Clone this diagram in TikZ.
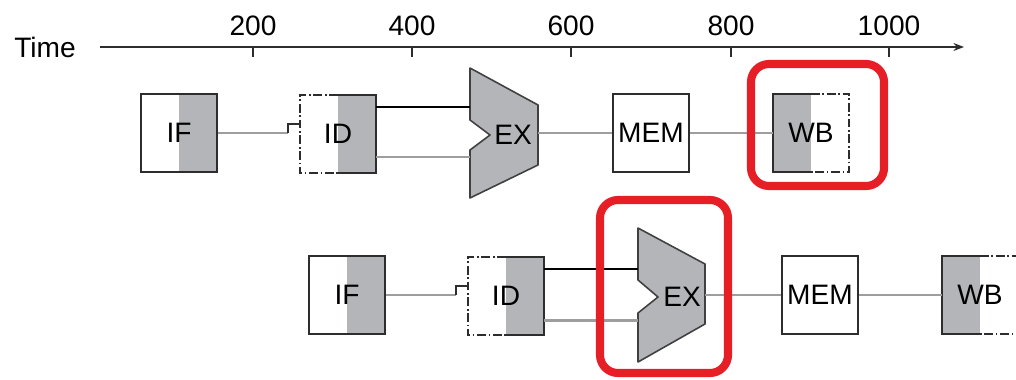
\documentclass[tikz,border=0pt]{standalone}
\usepackage{fontspec}
\setmainfont{Liberation Sans}
\usetikzlibrary{calc, arrows.meta}

\definecolor{grigio}{RGB}{180,181,185}
\definecolor{grigiofilo}{RGB}{158,158,158}
\definecolor{rosso}{RGB}{230,30,38}
\definecolor{scuro}{RGB}{45,45,45}

\tikzset{
  testo/.style={inner sep=0pt, font=\fontsize{16}{18}\selectfont},
  fase/.style={testo, minimum width=1.52cm, minimum height=1.56cm},
  contorno/.style={draw=scuro, line width=1.1pt},
  tratteggio/.style={draw=scuro, line width=1pt, dash pattern=on 5pt off 1.5pt on 1pt off 1.5pt},
  grigiodx/.style={path picture={\fill[grigio] (path picture bounding box.north) rectangle (path picture bounding box.south east);}},
  grigiosx/.style={path picture={\fill[grigio] (path picture bounding box.north) rectangle (path picture bounding box.south west);}},
  filo/.style={draw=grigiofilo, line width=1.1pt},
  gancio/.style={draw=scuro, line width=0.9pt},
  tacca/.style={draw=scuro, line width=0.9pt},
  alu/.style={fill=grigio, draw=black!75, line width=0.9pt, line join=round},
  evidenzia/.style={draw=rosso, line width=4.6pt, rounded corners=0.36cm},
}

\begin{document}
\begin{tikzpicture}[x=0.02cm, y=-0.02cm]
    \useasboundingbox (0,0) rectangle (1016,379);

    % asse dei tempi
    \node[testo] (tempo) at (45,47) {Time};
    \coordinate (t0) at (100,47);
    \coordinate (t1) at (964,47);
    \draw[draw=scuro, line width=1.1pt, -{Stealth[length=6pt,width=4.5pt]}] (t0) -- (t1);

    \draw[tacca] (253,47) -- (253,57);
    \draw[tacca] (412,47) -- (412,57);
    \draw[tacca] (571,47) -- (571,57);
    \draw[tacca] (731,47) -- (731,57);
    \draw[tacca] (889,47) -- (889,57);

    \node[testo] (l200) at (253,26) {200};
    \node[testo] (l400) at (412,26) {400};
    \node[testo] (l600) at (571,26) {600};
    \node[testo] (l800) at (731,26) {800};
    \node[testo] (l1000) at (889,26) {1000};

    % prima istruzione
    \node[fase, contorno, grigiodx] (ifA) at (179,133) {IF};
    \node[fase, grigiodx] (idA) at (338,134) {ID};
    \draw[contorno] (idA.north) -- (idA.north east) -- (idA.south east) -- (idA.south);
    \draw[tratteggio] (idA.north) -- (idA.north west) -- (idA.south west) -- (idA.south);

    \draw[alu] (470,68) -- (538,105) -- (538,165) -- (470,198) -- (470,150)
        -- (490,135) -- (470,120) -- cycle;
    \node[testo] (exA) at (513,135) {EX};
    \coordinate (exA1) at (470,107);
    \coordinate (exA2) at (470,157);
    \coordinate (exAout) at (538,133);

    \node[fase, contorno] (memA) at (651,133) {MEM};
    \node[fase, grigiosx] (wbA) at (811,133) {WB};
    \draw[contorno] (wbA.north) -- (wbA.north west) -- (wbA.south west) -- (wbA.south);
    \draw[tratteggio] (wbA.north) -- (wbA.north east) -- (wbA.south east) -- (wbA.south);

    % collegamenti
    \draw[filo] (ifA.east) -- ++(70,0) coordinate (hookA);
    \draw[gancio] (hookA) |- ([yshift=0.2cm]idA.west);
    \draw[line width=1.1pt] (idA.east |- exA1) -- (exA1);
    \draw[filo, line width=1.7pt] (idA.east |- exA2) -- (exA2);
    \draw[filo] (exAout) -- (memA.west);
    \draw[filo] (memA.east) -- (wbA.west);

    % seconda istruzione
    \node[fase, contorno, grigiodx] (ifB) at (347,295) {IF};
    \node[fase, grigiodx] (idB) at (506,296) {ID};
    \draw[contorno] (idB.north) -- (idB.north east) -- (idB.south east) -- (idB.south);
    \draw[tratteggio] (idB.north) -- (idB.north west) -- (idB.south west) -- (idB.south);

    \draw[alu] (638,228) -- (705,264) -- (705,324) -- (638,362) -- (638,313)
        -- (658,297) -- (638,280) -- cycle;
    \node[testo] (exB) at (682,297) {EX};
    \coordinate (exB1) at (638,269);
    \coordinate (exB2) at (638,320);
    \coordinate (exBout) at (705,295);

    \node[fase, contorno] (memB) at (820,295) {MEM};
    \node[fase, grigiosx] (wbB) at (980,295) {WB};
    \draw[contorno] (wbB.north) -- (wbB.north west) -- (wbB.south west) -- (wbB.south);
    \draw[tratteggio] (wbB.north) -- (wbB.north east) -- (wbB.south east) -- (wbB.south);

    % collegamenti
    \draw[filo] (ifB.east) -- ++(70,0) coordinate (hookB);
    \draw[gancio] (hookB) |- ([yshift=0.2cm]idB.west);
    \draw[line width=1.1pt] (idB.east |- exB1) -- (exB1);
    \draw[filo, line width=1.7pt] (idB.east |- exB2) -- (exB2);
    \draw[filo] (exBout) -- (memB.west);
    \draw[filo] (memB.east) -- (wbB.west);

    % evidenziazione
    \draw[evidenzia] (751,64) rectangle (884,186);
    \draw[evidenzia] (600,200) rectangle (728,373);
\end{tikzpicture}
\end{document}
